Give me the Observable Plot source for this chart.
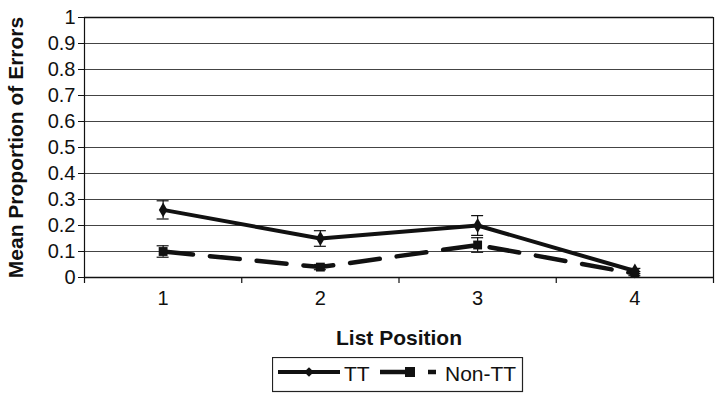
<!DOCTYPE html>
<html>
<head>
<meta charset="utf-8">
<script src="https://cdn.jsdelivr.net/npm/d3@7"></script>
<script src="https://cdn.jsdelivr.net/npm/@observablehq/plot@0.6"></script>
<style>
  html, body { margin: 0; padding: 0; background: #fff; }
  #wrap { position: relative; width: 724px; height: 403px; font-family: "Liberation Sans", Arial, sans-serif; }
  #legend { position: absolute; left: 272px; top: 357px; }
</style>
</head>
<body>
<div id="wrap"><div id="chart"></div><div id="legend"></div></div>
<script>
// ---- data ----
const positions = [1, 2, 3, 4];
const ttMean  = [0.26, 0.15, 0.20, 0.025];
const ttErr   = [0.035, 0.03, 0.038, 0.01];
const nonMean = [0.10, 0.04, 0.125, 0.015];
const nonErr  = [0.022, 0.01, 0.028, 0.008];
const yTicks  = [0, 0.1, 0.2, 0.3, 0.4, 0.5, 0.6, 0.7, 0.8, 0.9, 1];
const xBounds = [0.5, 1.5, 2.5, 3.5, 4.5];
const seriesNames = ["TT", "Non-TT"];

const tt  = positions.map((p, i) => ({x: p, y: ttMean[i],  e: ttErr[i]}));
const non = positions.map((p, i) => ({x: p, y: nonMean[i], e: nonErr[i]}));

const ink = "#111";

const chart = Plot.plot({
  width: 724,
  height: 354,
  marginTop: 17,
  marginLeft: 84,
  marginRight: 11,
  marginBottom: 77,
  style: {fontFamily: "Liberation Sans, Arial, sans-serif", fontSize: "20px", color: "#111", background: "#fff"},
  x: {type: "linear", domain: [0.5, 4.5]},
  y: {domain: [0, 1]},
  marks: [
    Plot.gridY(yTicks, {stroke: "#444", strokeOpacity: 1, strokeWidth: 1}),
    Plot.ruleY([1], {stroke: "#111", strokeWidth: 1.5}),
    Plot.axisY(yTicks, {tickSize: 6, tickPadding: 3, fontSize: 20, stroke: "#111",
      tickFormat: d => String(d),
      label: "Mean Proportion of Errors", labelAnchor: "center", labelOffset: 76, labelArrow: "none"}),
    Plot.axisX(positions, {tickSize: 0, tickPadding: 13, fontSize: 20, tickFormat: d => String(d),
      label: "List Position", labelAnchor: "center", labelOffset: 67, labelArrow: "none"}),
    Plot.ruleX(xBounds, {y1: 0, y2: 0, insetBottom: -6, stroke: "#111", strokeWidth: 1.2}),
    Plot.ruleX([0.5, 4.5], {stroke: "#111", strokeWidth: 1.2}),
    Plot.ruleY([0], {stroke: "#111", strokeWidth: 1.5}),
    // error bars
    Plot.ruleX(tt, {x: "x", y1: d => d.y - d.e, y2: d => d.y + d.e, stroke: ink, strokeWidth: 1.2}),
    Plot.ruleY(tt, {y: d => d.y - d.e, x1: "x", x2: "x", insetLeft: -6, insetRight: -6, stroke: ink, strokeWidth: 1.2}),
    Plot.ruleY(tt, {y: d => d.y + d.e, x1: "x", x2: "x", insetLeft: -6, insetRight: -6, stroke: ink, strokeWidth: 1.2}),
    Plot.ruleX(non, {x: "x", y1: d => d.y - d.e, y2: d => d.y + d.e, stroke: ink, strokeWidth: 1.2}),
    Plot.ruleY(non, {y: d => d.y - d.e, x1: "x", x2: "x", insetLeft: -6, insetRight: -6, stroke: ink, strokeWidth: 1.2}),
    Plot.ruleY(non, {y: d => d.y + d.e, x1: "x", x2: "x", insetLeft: -6, insetRight: -6, stroke: ink, strokeWidth: 1.2}),
    // lines
    Plot.line(non, {x: "x", y: "y", stroke: ink, strokeWidth: 4.5, strokeDasharray: "30,17"}),
    Plot.line(tt, {x: "x", y: "y", stroke: ink, strokeWidth: 4}),
    Plot.dot(non, {x: "x", y: "y", symbol: "square", r: 5, fill: ink, stroke: "none"}),
    Plot.dot(tt, {x: "x", y: "y", symbol: "diamond", r: 4.5, fill: ink, stroke: "none"})
  ]
});
chart.querySelectorAll("g[aria-label='x-axis label'] text, g[aria-label='y-axis label'] text").forEach(t => {
  t.setAttribute("font-weight", "bold");
  t.setAttribute("font-size", "21px");
});
document.getElementById("chart").appendChild(chart);

// ---- legend ----
const lg = d3.select("#legend").append("svg").attr("width", 252).attr("height", 36)
  .style("font-family", "Liberation Sans, Arial, sans-serif").style("display", "block");
lg.append("rect").attr("x", 0.5).attr("y", 0.5).attr("width", 250).attr("height", 34)
  .attr("fill", "#fff").attr("stroke", "#222").attr("stroke-width", 1.2);
const ly = 15;
// TT sample
lg.append("line").attr("x1", 6).attr("x2", 68).attr("y1", ly).attr("y2", ly).attr("stroke", ink).attr("stroke-width", 4);
lg.append("path").attr("d", d3.symbol(d3.symbolDiamond2, 60)()).attr("transform", `translate(37,${ly})`).attr("fill", ink);
lg.append("text").attr("x", 72).attr("y", ly + 9).attr("font-size", 21).attr("fill", "#111").text(seriesNames[0]);
// Non-TT sample
lg.append("line").attr("x1", 108).attr("x2", 164).attr("y1", ly).attr("y2", ly).attr("stroke", ink)
  .attr("stroke-width", 4.5).attr("stroke-dasharray", "28,20");
lg.append("rect").attr("x", 133).attr("y", ly - 5).attr("width", 10).attr("height", 10).attr("fill", ink);
lg.append("text").attr("x", 173).attr("y", ly + 9).attr("font-size", 21).attr("fill", "#111").text(seriesNames[1]);
</script>
</body>
</html>
